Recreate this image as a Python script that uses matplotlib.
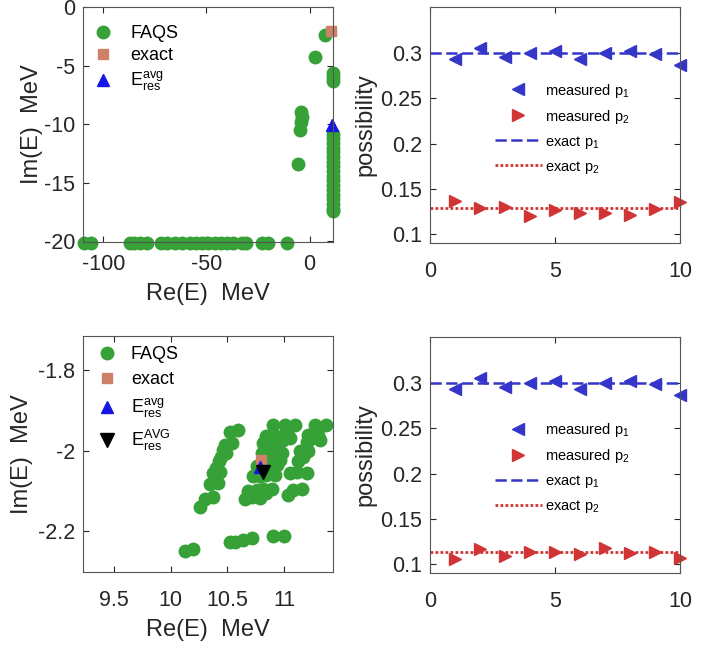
import matplotlib
matplotlib.use("Agg")
import matplotlib.pyplot as plt

plt.rcParams["font.family"] = ["Liberation Sans", "DejaVu Sans"]
plt.rcParams["mathtext.fontset"] = "custom"
plt.rcParams["mathtext.rm"] = "Liberation Sans"
plt.rcParams["mathtext.it"] = "Liberation Sans:italic"
plt.rcParams["axes.unicode_minus"] = False

TXT = "#262626"
AX = "#555555"
GREEN = "#36a136"
SALMON = "#cf8068"
BLUE_TRI = "#1515e6"
P_BLUE = "#3336c8"
P_RED = "#d13434"

# ---- panel (a): wide view of FAQS eigenvalues ----
faqs_re_a = [-109.5, -106.0, -87.0, -85.0, -82.0, -79.0, -72.0, -69.0, -65.0, -62.0,
             -58.0, -55.0, -52.0, -49.0, -46.0, -43.0, -40.0, -37.0, -33.0, -31.0,
             -23.0, -20.0, -11.0,
             7.6, 2.4, -4.0, -3.6, -4.3, -4.5, -5.8,
             11.2, 11.2, 11.2]
faqs_im_a = [-20.1] * 23 + [-2.4, -4.3, -9.0, -9.4, -9.8, -10.5, -13.4,
                            -5.6, -6.0, -6.3]
column_im_a = [-10.8, -11.2, -11.6, -12.0, -12.4, -12.8, -13.2, -13.6, -14.0, -14.4,
               -14.8, -15.2, -15.6, -16.0, -16.4, -16.8, -17.2, -17.4]
faqs_re_a += [11.2] * len(column_im_a)
faqs_im_a += column_im_a
exact_a = (10.5, -2.05)
avg_a = (11.0, -10.1)

# ---- panel (c): zoomed FAQS eigenvalues ----
faqs_re_c = [10.262, 10.300, 10.368, 10.344, 10.418, 10.374, 10.403, 10.427, 10.447, 10.462,
             10.477, 10.536, 10.521, 10.594, 10.388, 10.433, 10.491,
             10.653, 10.712, 10.786, 10.844, 10.889, 10.683, 10.756, 10.815, 10.727, 10.786,
             10.844, 10.918, 10.756, 10.815, 10.874, 10.933, 10.800, 10.859, 10.918, 10.977,
             10.815, 10.874, 10.933, 10.992, 11.050, 10.844, 10.918, 10.977, 11.036, 10.903,
             11.006, 11.094, 10.933, 10.962,
             11.036, 11.080, 11.153, 11.050, 11.109, 11.197, 11.124, 11.168, 11.212, 11.139,
             11.197, 11.242, 11.315, 11.212, 11.300, 11.271, 11.365,
             10.124, 10.197, 10.520, 10.565, 10.638, 10.712, 10.900, 10.997]
faqs_im_c = [-2.140, -2.120, -2.115, -2.082, -2.079, -2.056, -2.044, -2.027, -2.015, -1.998,
             -1.986, -1.982, -1.953, -1.949, -2.068, -2.052, -2.006,
             -2.120, -2.115, -2.118, -2.105, -2.095, -2.101, -2.097, -2.095, -2.064, -2.064,
             -2.060, -2.060, -2.039, -2.031, -2.031, -2.035, -2.006, -2.006, -2.011, -2.006,
             -1.982, -1.978, -1.978, -1.974, -1.969, -1.965, -1.965, -1.965, -1.964, -1.937,
             -1.937, -1.937, -1.990, -2.023,
             -2.109, -2.097, -2.095, -2.056, -2.052, -2.056, -2.027, -2.015, -2.002, -2.002,
             -1.978, -1.969, -1.974, -1.961, -1.961, -1.937, -1.937,
             -2.249, -2.243, -2.227, -2.225, -2.220, -2.216, -2.212, -2.211]
exact_c = (10.794, -2.023)
avg_c = (10.79, -2.041)
avg_big_c = (10.81, -2.052)

# ---- panels (b), (d): possibilities ----
n_meas = [1, 2, 3, 4, 5, 6, 7, 8, 9, 10]
p1_meas = [0.293, 0.306, 0.296, 0.300, 0.3025, 0.294, 0.300, 0.302, 0.299, 0.2865]
p2_meas_b = [0.136, 0.129, 0.130, 0.1195, 0.126, 0.123, 0.123, 0.1215, 0.1275, 0.135]
p2_meas_d = [0.1055, 0.117, 0.109, 0.113, 0.113, 0.111, 0.118, 0.112, 0.113, 0.107]
p1_exact = 0.3
p2_exact_b = 0.129
p2_exact_d = 0.113


def style_axes(ax, xpad):
    ax.tick_params(direction="in", top=True, right=True, labelsize=15.5,
                   colors=TXT, length=4, width=0.8)
    ax.tick_params(axis="x", pad=xpad)
    ax.tick_params(axis="y", pad=5.5)
    for sp in ax.spines.values():
        sp.set_color(AX)
        sp.set_linewidth(0.8)


fig = plt.figure(figsize=(7.24, 6.46), dpi=100)

axa = fig.add_axes([0.1146, 0.6254, 0.3453, 0.3638])
axb = fig.add_axes([0.5939, 0.6238, 0.3453, 0.3653])
axc = fig.add_axes([0.1146, 0.1146, 0.3453, 0.3653])
axd = fig.add_axes([0.5939, 0.1130, 0.3453, 0.3653])

avg_label = r"$\mathrm{E}_{\mathrm{res}}^{\mathrm{avg}}$"
avg_big_label = r"$\mathrm{E}_{\mathrm{res}}^{\mathrm{AVG}}$"

# panel a
axa.plot(faqs_re_a, faqs_im_a, "o", color=GREEN, ms=9, clip_on=False, label="FAQS")
axa.plot(*exact_a, "s", color=SALMON, ms=7, clip_on=False, label="exact")
axa.plot(*avg_a, "^", color=BLUE_TRI, ms=9, clip_on=False, label=avg_label)
axa.set_xlim(-109.8, 11.3)
axa.set_ylim(-20.05, 0)
axa.set_xticks([-100, -50, 0])
axa.set_yticks([-20, -15, -10, -5, 0])
axa.set_xlabel("Re(E)  MeV", fontsize=17, color=TXT, labelpad=5.5)
axa.set_ylabel("Im(E)  MeV", fontsize=17, color=TXT, labelpad=1)
axa.legend(loc="upper left", bbox_to_anchor=(0.026, 0.922), borderaxespad=0, borderpad=0,
           frameon=False, fontsize=13, handletextpad=0.75, labelspacing=0.28,
           handlelength=1.5)

# panel c
axc.plot(faqs_re_c, faqs_im_c, "o", color=GREEN, ms=9, clip_on=False, label="FAQS")
axc.plot(*exact_c, "s", color=SALMON, ms=7, clip_on=False, label="exact")
axc.plot(*avg_c, "^", color=BLUE_TRI, ms=9, clip_on=False, label=avg_label)
axc.plot(*avg_big_c, "v", color="black", ms=10, clip_on=False, label=avg_big_label)
axc.set_xlim(9.226, 11.43)
axc.set_ylim(-2.30, -1.717)
axc.set_xticks([9.5, 10, 10.5, 11])
axc.set_xticklabels(["9.5", "10", "10.5", "11"])
axc.set_yticks([-2.2, -2.0, -1.8])
axc.set_yticklabels(["-2.2", "-2", "-1.8"])
axc.set_xlabel("Re(E)  MeV", fontsize=17, color=TXT, labelpad=6)
axc.set_ylabel("Im(E)  MeV", fontsize=17, color=TXT, labelpad=4)
axc.legend(loc="upper left", bbox_to_anchor=(0.04, 0.958), borderaxespad=0, borderpad=0,
           frameon=False, fontsize=13, handletextpad=0.6, labelspacing=0.45,
           handlelength=1.5)

# panels b, d
for ax, p2m, p2e, ly in [(axb, p2_meas_b, p2_exact_b, 0.74), (axd, p2_meas_d, p2_exact_d, 0.70)]:
    ax.plot(n_meas, p1_meas, "<", color=P_BLUE, ms=9, ls="none", clip_on=False,
            label=r"measured p$_1$")
    ax.plot(n_meas, p2m, ">", color=P_RED, ms=9, ls="none", clip_on=False,
            label=r"measured p$_2$")
    ax.axhline(p1_exact, color=P_BLUE, ls=(0, (4.5, 1.8)), lw=1.8, label=r"exact p$_1$")
    ax.axhline(p2e, color=P_RED, ls=(0, (1, 0.8)), lw=2, label=r"exact p$_2$")
    ax.set_xlim(0, 10)
    ax.set_ylim(0.09, 0.351)
    ax.set_xticks([0, 5, 10])
    ax.set_yticks([0.1, 0.15, 0.2, 0.25, 0.3])
    ax.set_yticklabels(["0.1", "0.15", "0.2", "0.25", "0.3"])
    ax.set_ylabel("possibility", fontsize=17, color=TXT, labelpad=2.5)
    ax.legend(loc="upper left", bbox_to_anchor=(0.208, ly), frameon=False, fontsize=10.5,
              handletextpad=0.2, labelspacing=0.55, handlelength=3.2)

style_axes(axa, 9)
style_axes(axb, 13)
style_axes(axc, 13)
style_axes(axd, 13)

fig.savefig("out.png", dpi=100)
